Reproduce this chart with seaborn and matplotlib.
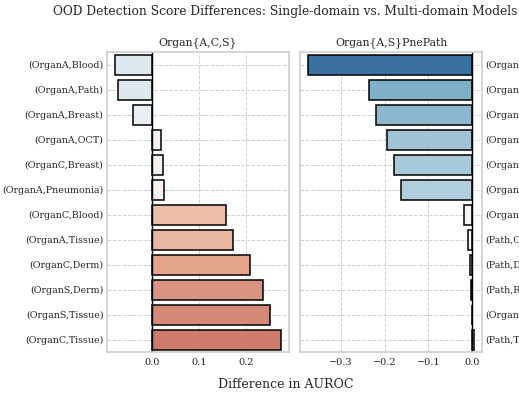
import matplotlib
matplotlib.use("Agg")
import matplotlib.pyplot as plt
import seaborn as sns
import pandas as pd
import numpy as np

left_labels = ["(OrganA,Blood)", "(OrganA,Path)", "(OrganA,Breast)", "(OrganA,OCT)",
               "(OrganC,Breast)", "(OrganA,Pneumonia)", "(OrganC,Blood)", "(OrganA,Tissue)",
               "(OrganC,Derm)", "(OrganS,Derm)", "(OrganS,Tissue)", "(OrganC,Tissue)"]
left_values = [-0.079, -0.074, -0.041, 0.018, 0.023, 0.026, 0.158, 0.172,
               0.208, 0.236, 0.252, 0.274]

right_labels = ["(OrganA,Path)", "(OrganS,Path)", "(OrganA,Derm)", "(OrganS,Blood)",
                "(OrganA,Blood)", "(OrganS,OCT)", "(OrganA,Retina)", "(Path,OCT)",
                "(Path,Derm)", "(Path,Retina)", "(OrganS,Retina)", "(Path,Tissue)"]
right_values = [-0.375, -0.237, -0.219, -0.194, -0.179, -0.163, -0.018, -0.0085,
                -0.0055, -0.0015, -0.0008, 0.004]

titles = ["Organ{A,C,S}", "Organ{A,S}PnePath"]

sns.set_theme(style="whitegrid")
plt.rcParams["font.family"] = ["DejaVu Serif"]
plt.rcParams["grid.linestyle"] = "--"
plt.rcParams["axes.edgecolor"] = "#d0d0d0"

fig = plt.figure(figsize=(5.19, 3.94), dpi=100)
ax1 = fig.add_axes([107/519, 1-352/394, 182/519, 300/394])
ax2 = fig.add_axes([300/519, 1-352/394, 182/519, 300/394])

cmap = plt.get_cmap("RdBu_r")
norm = matplotlib.colors.Normalize(vmin=-0.5, vmax=0.5)

for ax, labels, values, title in [(ax1, left_labels, left_values, titles[0]),
                                  (ax2, right_labels, right_values, titles[1])]:
    df = pd.DataFrame({"pair": labels, "diff": values})
    pal = [cmap(norm(v)) for v in values]
    sns.barplot(data=df, x="diff", y="pair", hue="pair", palette=pal, legend=False,
                edgecolor="black", linewidth=1.1, ax=ax)
    ax.axvline(0, color="black", linewidth=1.0)
    ax.set_title(title, fontsize=7.8, pad=5)
    ax.set_xlabel("")
    ax.set_ylabel("")
    ax.tick_params(axis="y", labelsize=6.8, pad=2.5, length=0)
    ax.tick_params(axis="x", labelsize=7, pad=4, length=0)
    ax.grid(True, linestyle="--", linewidth=0.7, color="#d0d0d0")
    for s in ax.spines.values():
        s.set_color("#d0d0d0")

ax2.yaxis.tick_right()
ax2.tick_params(axis="y", length=0, pad=2.5)
ax2.set_xticks([-0.3, -0.2, -0.1, 0.0])
ax1.set_xticks([0.0, 0.1, 0.2])

fig.suptitle("OOD Detection Score Differences: Single-domain vs. Multi-domain Models",
             x=285/519, y=1-11/394, fontsize=8.8, va="center")
fig.text(286/519, 1-384/394, "Difference in AUROC", ha="center", va="center", fontsize=9)

fig.savefig("out.png", dpi=100)
